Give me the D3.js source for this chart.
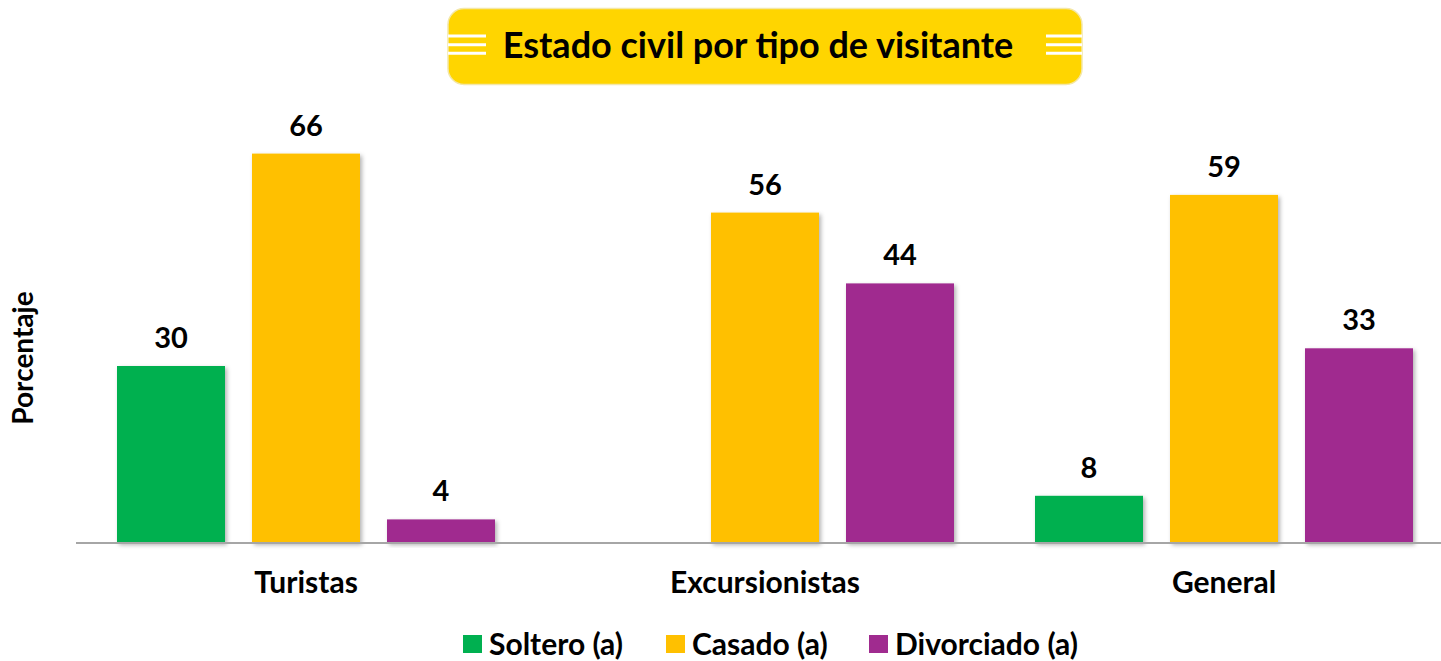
<!DOCTYPE html>
<html>
<head>
<meta charset="utf-8">
<script src="https://cdn.jsdelivr.net/npm/d3@7"></script>
<style>
  body { margin: 0; background: #fff; }
  text { font-family: Lato, "Open Sans", sans-serif; font-weight: bold; fill: #000; }
</style>
</head>
<body>
<div id="chart"></div>
<script>
let categories = ["Turistas", "Excursionistas", "General"];
let series = ["Soltero (a)", "Casado (a)", "Divorciado (a)"];
let soltero = [30, 0, 8];
let casado = [66, 56, 59];
let divorciado = [4, 44, 33];
let seriesColors = ["#00B050", "#FFC000", "#A02B8F"];
let chartTitle = "Estado civil por tipo de visitante";
let yTitle = "Porcentaje";

let width = 1441;
let height = 661;
let chartPadding = { left: 76.5, right: -12.5, top: 130, bottom: 118 }; //px

let svg = d3.select("#chart")
    .append("svg")
    .attr("width", width)
    .attr("height", height);

let defs = svg.append("defs");
let shadow = defs.append("filter")
    .attr("id", "shadow")
    .attr("x", "-10%").attr("y", "-10%")
    .attr("width", "130%").attr("height", "130%");
shadow.append("feDropShadow")
    .attr("dx", 2).attr("dy", 2)
    .attr("stdDeviation", 2)
    .attr("flood-color", "#000")
    .attr("flood-opacity", 0.3);

let table = categories.map((c, i) => ({
    category: c,
    values: [soltero[i], casado[i], divorciado[i]]
}));

let x0 = d3.scaleBand()
    .domain(categories)
    .range([chartPadding.left, width - chartPadding.right])
    .paddingInner(0)
    .paddingOuter(0);

let x1 = d3.scaleBand()
    .domain(d3.range(series.length))
    .range([0, x0.bandwidth()])
    .paddingInner(0.2)
    .paddingOuter(0.3);

let y = d3.scaleLinear()
    .domain([0, 70])
    .range([height - chartPadding.bottom, chartPadding.top]);

/*---------------
 // title box
 ----------------*/
let titleBox = svg.append("g");
titleBox.append("rect")
    .attr("x", 448)
    .attr("y", 8.5)
    .attr("width", 634)
    .attr("height", 76)
    .attr("rx", 16)
    .attr("fill", "#FFD500")
    .attr("stroke", "#F3E7A8")
    .attr("stroke-width", 1.5);

[[448, 486], [1046, 1082]].forEach(s => {
    [36, 44.7, 53.3].forEach(ly => {
        titleBox.append("line")
            .attr("x1", s[0]).attr("x2", s[1])
            .attr("y1", ly).attr("y2", ly)
            .attr("stroke", "#fff")
            .attr("stroke-width", 3);
    });
});

titleBox.append("text")
    .attr("x", 758)
    .attr("y", 58)
    .attr("text-anchor", "middle")
    .style("font-size", "36px")
    .text(chartTitle);

/*---------------
 // bars
 ----------------*/
let groups = svg.selectAll("g.group")
    .data(table)
    .enter()
    .append("g")
    .attr("class", "group")
    .attr("transform", d => "translate(" + x0(d.category) + ",0)");

groups.selectAll("rect")
    .data(d => d.values.map((v, i) => ({ v: v, i: i })).filter(e => e.v > 0))
    .enter()
    .append("rect")
    .attr("x", d => x1(d.i))
    .attr("y", d => y(d.v))
    .attr("width", x1.bandwidth())
    .attr("height", d => y(0) - y(d.v))
    .attr("fill", d => seriesColors[d.i])
    .attr("filter", "url(#shadow)");

groups.selectAll("text.value")
    .data(d => d.values.map((v, i) => ({ v: v, i: i })).filter(e => e.v > 0))
    .enter()
    .append("text")
    .attr("class", "value")
    .attr("x", d => x1(d.i) + x1.bandwidth() / 2)
    .attr("y", d => y(d.v) - 18)
    .attr("text-anchor", "middle")
    .style("font-size", "29px")
    .text(d => d.v);

/*---------------
 // x axis stuff
 ----------------*/
let xAxis = d3.axisBottom(x0).tickSize(0).tickPadding(29);

let xg = svg.append("g")
    .attr("transform", "translate(0," + y(0) + ")")
    .call(xAxis);

xg.select(".domain")
    .attr("d", "M76,0H" + width)
    .attr("stroke", "#A6A6A6")
    .attr("stroke-width", 2);

xg.selectAll(".tick text")
    .style("font-family", "Lato, 'Open Sans', sans-serif")
    .style("font-weight", "bold")
    .style("font-size", "30px")
    .attr("fill", "#000");

/*---------------
 // y label
 ----------------*/
let yLabelCenter = { x: 33, y: 358 };
svg.append("text")
    .attr("x", yLabelCenter.x)
    .attr("y", yLabelCenter.y)
    .attr("text-anchor", "middle")
    .attr("transform", "rotate(-90," + yLabelCenter.x + "," + yLabelCenter.y + ")")
    .style("font-size", "28px")
    .text(yTitle);

/*---------------
 // legend
 ----------------*/
let legendX = [463, 666, 869];
let legend = svg.append("g");
series.forEach((s, i) => {
    legend.append("rect")
        .attr("x", legendX[i])
        .attr("y", 635)
        .attr("width", 19)
        .attr("height", 18)
        .attr("fill", seriesColors[i]);
    legend.append("text")
        .attr("x", legendX[i] + 26)
        .attr("y", 655)
        .style("font-size", "30px")
        .text(s);
});
</script>
</body>
</html>
